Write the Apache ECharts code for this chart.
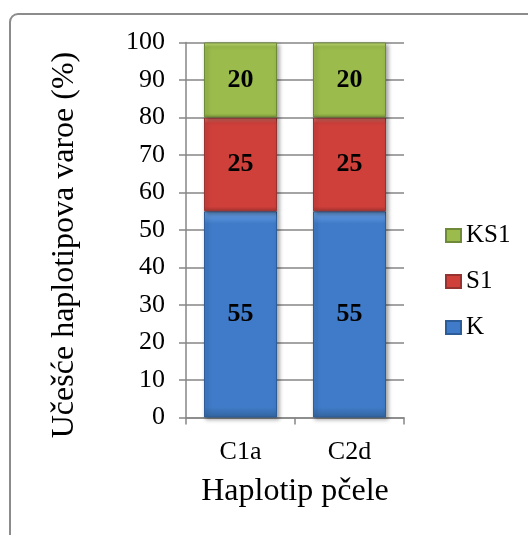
<!DOCTYPE html>
<html>
<head>
<meta charset="utf-8">
<script src="https://cdn.jsdelivr.net/npm/echarts@6/dist/echarts.min.js"></script>
<style>
html,body{margin:0;padding:0;background:#fff;}
#chart{width:528px;height:535px;}
</style>
</head>
<body>
<div id="chart"></div>
<script>
var categories = ['C1a', 'C2d'];
var seriesNames = ['K', 'S1', 'KS1'];
var valuesK = [55, 55];
var valuesS1 = [25, 25];
var valuesKS1 = [20, 20];
var yTicks = [0, 10, 20, 30, 40, 50, 60, 70, 80, 90, 100];

var FONT = '"Liberation Serif", "Times New Roman", serif';

function bevel(light, mid, dark) {
  return {
    type: 'linear', x: 0, y: 0, x2: 0, y2: 1,
    colorStops: [
      {offset: 0, color: light},
      {offset: 0.06, color: mid},
      {offset: 0.95, color: mid},
      {offset: 1, color: dark}
    ]
  };
}

var colors = {
  K: bevel('#6fa6e8', '#3f7bc8', '#34669f'),
  S1: bevel('#f07a74', '#cf403b', '#a83430'),
  KS1: bevel('#c6e27c', '#9bbb4c', '#7a963c')
};
var borderColors = {K: '#2d5d99', S1: '#963230', KS1: '#6e8a38'};
var dataMap = {K: valuesK, S1: valuesS1, KS1: valuesKS1};

var series = seriesNames.map(function (n) {
  return {
    name: n,
    type: 'bar',
    stack: 'total',
    barWidth: '67%',
    data: dataMap[n],
    itemStyle: {
      color: colors[n],
      borderColor: borderColors[n],
      borderWidth: 1,
      shadowColor: 'rgba(0,0,0,0.35)',
      shadowBlur: 4,
      shadowOffsetX: 2,
      shadowOffsetY: 2
    },
    label: {
      show: true,
      position: 'inside',
      color: '#000',
      fontFamily: FONT,
      fontWeight: 'bold',
      fontSize: 26
    },
    emphasis: {disabled: true}
  };
});

var chart = echarts.init(document.getElementById('chart'), null, {renderer: 'canvas'});
chart.setOption({
  animation: false,
  backgroundColor: '#fff',
  graphic: [{
    type: 'rect',
    shape: {x: 10, y: 14, width: 600, height: 600, r: 8},
    style: {fill: 'none', stroke: '#8c8c8c', lineWidth: 2},
    silent: true,
    z: -10
  }],
  grid: {left: 186, right: 124, top: 42.5, bottom: 117.5, containLabel: false},
  legend: {
    orient: 'vertical',
    left: 440,
    top: 218,
    data: ['KS1', 'S1', 'K'],
    icon: 'rect',
    itemWidth: 15,
    itemHeight: 13,
    itemGap: 21,
    textStyle: {fontFamily: FONT, fontSize: 25, color: '#000', lineHeight: 24},
    selectedMode: false
  },
  xAxis: {
    type: 'category',
    data: categories,
    name: 'Haplotip pčele',
    nameLocation: 'middle',
    nameGap: 58,
    nameTextStyle: {fontFamily: FONT, fontSize: 32, color: '#000'},
    axisLine: {lineStyle: {color: '#868686', width: 1.5}},
    axisTick: {show: true, length: 7, lineStyle: {color: '#868686', width: 1.5}},
    axisLabel: {fontFamily: FONT, fontSize: 26, color: '#000', margin: 22}
  },
  yAxis: {
    type: 'value',
    min: 0,
    max: 100,
    interval: 10,
    name: 'Učešće haplotipova varoe (%)',
    nameLocation: 'middle',
    nameGap: 105,
    nameRotate: 90,
    nameTextStyle: {fontFamily: FONT, fontSize: 32, color: '#000', padding: [0, 30, 0, 0]},
    axisLine: {show: true, lineStyle: {color: '#868686', width: 1.5}},
    axisTick: {show: true, length: 7, lineStyle: {color: '#868686', width: 1.5}},
    axisLabel: {
      fontFamily: FONT, fontSize: 26, color: '#000', margin: 21,
      formatter: function (v) { return yTicks.indexOf(v) >= 0 ? String(v) : ''; }
    },
    splitLine: {show: true, lineStyle: {color: '#868686', width: 1.5}}
  },
  series: series
});
</script>
</body>
</html>
